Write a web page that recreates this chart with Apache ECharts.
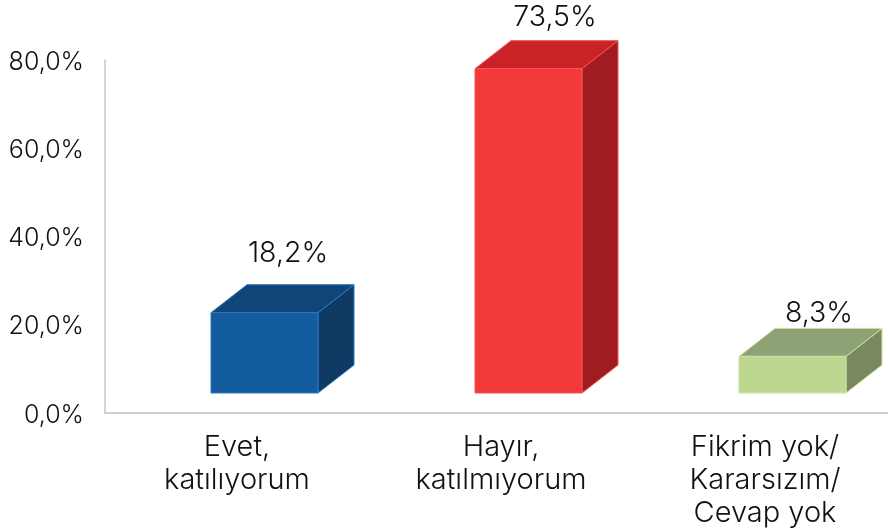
<!DOCTYPE html>
<html>
<head>
<meta charset="utf-8">
<style>
  html, body { margin: 0; padding: 0; background: #fff; overflow: hidden; }
  #main { width: 888px; height: 531px; }
</style>
<script src="https://cdn.jsdelivr.net/npm/echarts@6/dist/echarts.min.js"></script>
</head>
<body>
<div id="main"></div>
<script>
const categories = ['Evet,\nkatılıyorum', 'Hayır,\nkatılmıyorum', 'Fikrim yok/\nKararsızım/\nCevap yok']
const shares = [18.2, 73.5, 8.3]
const tickMax = 80
const tickStep = 20

// front, top, side, edge
const barColors = [
  ['#135c9d', '#0f4677', '#0e3a64', '#2a78bf'],
  ['#f23a3a', '#c92328', '#a11c20', '#f65050'],
  ['#bdd791', '#8fa275', '#78885f', '#cbe2a4']
]
// the labels sit at a different height above each box
const labelLift = [31, 23, 15]
const labelShift = [51, 54, 54]

const fontName = 'Inter, sans-serif'
const barWidth = 107
const barShift = 27.5
const floorLift = 20
const depthX = 36
const depthY = 28

function percent (v) {
  return v.toFixed(1).replace('.', ',') + '%'
}

function renderBox (params, api) {
  const i = api.value(0)
  const top = api.coord([i, api.value(1)])
  const base = api.coord([i, 0])
  const c = barColors[i]
  const x0 = top[0] + barShift - barWidth / 2
  const x1 = x0 + barWidth
  const y0 = top[1] - floorLift
  const y1 = base[1] - floorLift
  const poly = (points, fill) => ({
    type: 'polygon',
    shape: { points },
    style: { fill, stroke: c[3], lineWidth: 1 }
  })
  return {
    type: 'group',
    children: [
      poly([[x1, y0], [x1 + depthX, y0 - depthY], [x1 + depthX, y1 - depthY], [x1, y1]], c[2]),
      poly([[x0, y0], [x0 + depthX, y0 - depthY], [x1 + depthX, y0 - depthY], [x1, y0]], c[1]),
      poly([[x0, y0], [x1, y0], [x1, y1], [x0, y1]], c[0]),
      {
        type: 'text',
        style: {
          x: top[0] + labelShift[i],
          y: y0 - depthY - labelLift[i],
          text: percent(api.value(1)),
          fill: '#111',
          font: '300 28.5px ' + fontName,
          align: 'center',
          verticalAlign: 'middle'
        }
      }
    ]
  }
}

const chart = echarts.init(document.getElementById('main'), null, { renderer: 'canvas' })
chart.setOption({
  animation: false,
  backgroundColor: '#fff',
  grid: { left: 105, top: 60, width: 792, height: 353, outerBoundsMode: 'none' },
  xAxis: {
    type: 'category',
    data: categories,
    axisLine: { lineStyle: { color: '#c4c4c4', width: 1.5 } },
    axisTick: { show: false },
    axisLabel: {
      interval: 0,
      margin: 18,
      fontFamily: fontName,
      fontWeight: 300,
      fontSize: 29,
      lineHeight: 33,
      color: '#111'
    }
  },
  yAxis: {
    type: 'value',
    min: 0,
    max: tickMax,
    interval: tickStep,
    splitLine: { show: false },
    axisTick: { show: false },
    axisLine: { show: true, lineStyle: { color: '#c4c4c4', width: 1.5 } },
    axisLabel: {
      margin: 21,
      verticalAlign: 'top',
      lineHeight: 4,
      formatter: percent,
      fontFamily: fontName,
      fontWeight: 300,
      fontSize: 25,
      color: '#111'
    }
  },
  series: [{
    type: 'custom',
    clip: false,
    renderItem: renderBox,
    data: shares.map((v, i) => [i, v])
  }]
})
</script>
</body>
</html>
